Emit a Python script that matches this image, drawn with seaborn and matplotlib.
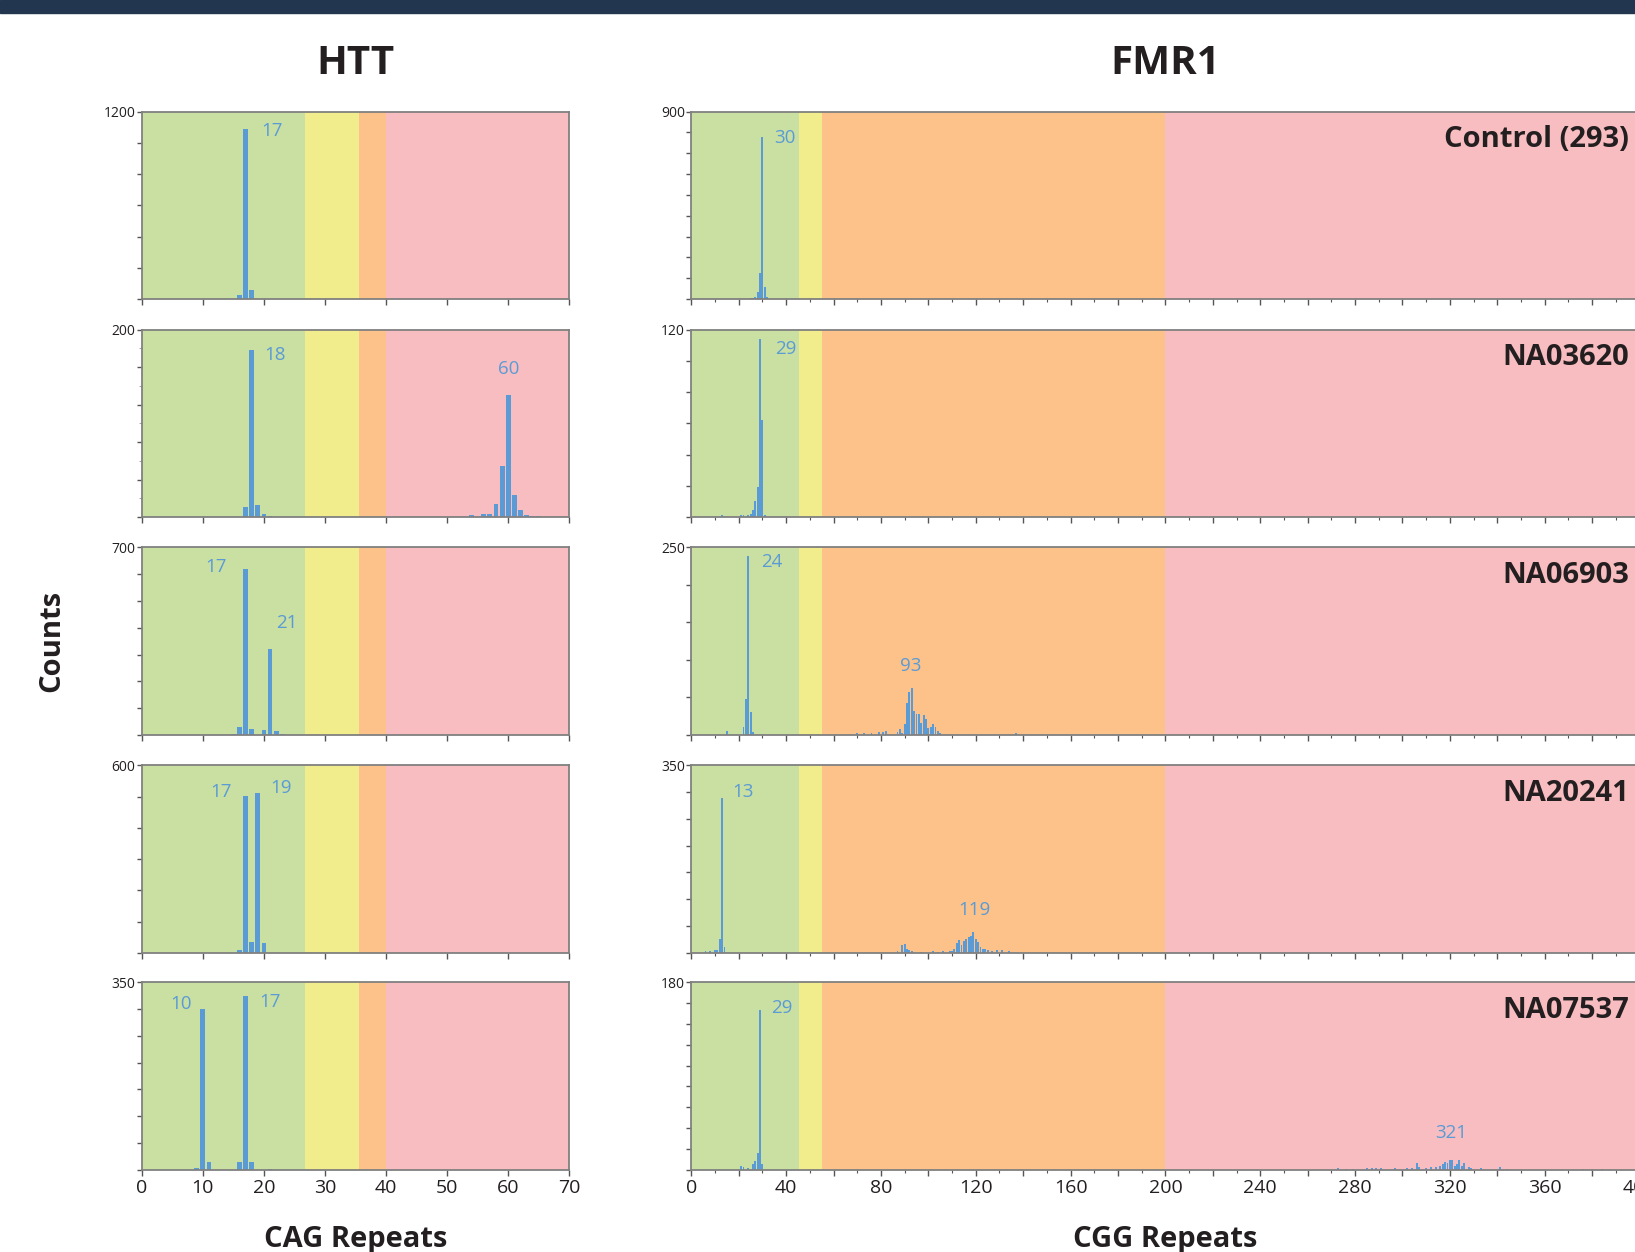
import matplotlib
matplotlib.use("Agg")
import matplotlib.pyplot as plt
from matplotlib.patches import Rectangle
from matplotlib.ticker import MultipleLocator
import seaborn as sns

# ---------------- data ----------------
samples = ["Control (293)", "NA03620", "NA06903", "NA20241", "NA07537"]

# HTT (CAG repeats)
htt_control_x = [16, 17, 18, 19]
htt_control_y = [26, 1088, 58, 3]
htt_na03620_x = [17, 18, 19, 20, 21, 54, 56, 57, 58, 59, 60, 61, 62, 63, 64, 65]
htt_na03620_y = [11, 178, 13, 3, 1, 2, 3, 3, 14, 54, 130, 23, 8, 2, 1, 1]
htt_na06903_x = [15, 16, 17, 18, 19, 20, 21, 22, 23]
htt_na06903_y = [2, 28, 621, 21, 1, 18, 322, 16, 4]
htt_na20241_x = [16, 17, 18, 19, 20]
htt_na20241_y = [10, 501, 33, 512, 30]
htt_na07537_x = [9, 10, 11, 16, 17, 18, 21]
htt_na07537_y = [3, 300, 15, 15, 324, 15, 1]

# FMR1 (CGG repeats)
fmr_control_x = [21, 23, 25, 26, 27, 28, 29, 30, 31, 32]
fmr_control_y = [1, 2, 3, 5, 11, 32, 124, 776, 60, 8]
fmr_na03620_x = [13, 21, 22, 24, 25, 26, 27, 28, 29, 30, 31]
fmr_na03620_y = [1, 1, 1, 1, 2, 4.5, 10, 19, 114, 62, 1]
fmr_na06903_x = [15, 22, 23, 24, 25, 26, 70, 73, 76, 79, 81, 82, 87, 88, 89, 90, 91, 92,
                 93, 94, 95, 96, 97, 98, 99, 100, 101, 102, 103, 104, 105, 137]
fmr_na06903_y = [5, 11, 48, 238, 30, 4, 2, 3, 3, 4, 4, 5, 4, 8, 3, 15, 43, 57,
                 62, 32, 28, 28, 16, 27, 21, 9, 10, 14, 10, 5, 2, 2]
fmr_na20241_x = [6, 8, 10, 11, 12, 13, 14, 87, 89, 90, 91, 92, 93, 97, 102, 104, 106,
                 109, 110, 111, 112, 113, 114, 115, 116, 117, 118, 119, 120, 121, 122,
                 123, 124, 125, 127, 129, 131, 134]
fmr_na20241_y = [3, 4, 5, 5, 25, 289, 11, 3, 14, 17, 8, 5, 3, 2, 3, 2, 3,
                 4, 3, 8, 19, 23, 14, 22, 26, 30, 31, 38, 25, 21, 11,
                 8, 7, 5, 4, 5, 5, 4]
fmr_na07537_x = [21, 22, 24, 26, 27, 28, 29, 30, 273, 276, 279, 285, 287, 289, 291, 297,
                 302, 304, 306, 307, 310, 312, 314, 316, 317, 318, 319, 320, 321, 322,
                 323, 324, 325, 326, 328, 329, 333, 341, 344, 376, 380, 384]
fmr_na07537_y = [4, 3, 2, 5.5, 8.7, 15.7, 153, 5.5, 2, 1, 1, 1.5, 1.5, 2, 1.5, 1.5,
                 2, 2, 6, 3, 2, 3, 2.5, 4, 5, 7, 6, 9, 9, 4,
                 5, 9, 4, 6, 3, 2, 2, 3, 1, 1, 1, 1]

htt_x = [htt_control_x, htt_na03620_x, htt_na06903_x, htt_na20241_x, htt_na07537_x]
htt_y = [htt_control_y, htt_na03620_y, htt_na06903_y, htt_na20241_y, htt_na07537_y]
fmr_x = [fmr_control_x, fmr_na03620_x, fmr_na06903_x, fmr_na20241_x, fmr_na07537_x]
fmr_y = [fmr_control_y, fmr_na03620_y, fmr_na06903_y, fmr_na20241_y, fmr_na07537_y]

htt_ymax = [1200, 200, 700, 600, 350]
htt_ystep = [200, 40, 100, 100, 50]
fmr_ymax = [900, 120, 250, 350, 180]
fmr_ystep = [100, 20, 50, 50, 20]

# peak labels: (text, x, y)
htt_peaks = [[("17", 21.3, 1073)],
             [("18", 21.9, 173), ("60", 60.1, 158)],
             [("17", 12.2, 627), ("21", 23.7, 416)],
             [("17", 13.0, 514), ("19", 22.8, 528)],
             [("10", 6.5, 309), ("17", 21.0, 313)]]
fmr_peaks = [[("30", 39.5, 774)],
             [("29", 40.0, 107.5)],
             [("24", 34.0, 231), ("93", 92.5, 92)],
             [("13", 22.0, 300), ("119", 119.4, 80.6)],
             [("29", 38.0, 155.6), ("321", 320.6, 35.7)]]

# zones: boundaries
htt_zones = [0, 26.7, 35.5, 40, 70]
fmr_zones = [0, 45.5, 55, 200, 400]
zone_colors = ["#C9E0A2", "#F2ED8C", "#FDC289", "#F8BDC0"]

BLUE = "#5B9BD5"
TXT = "#231F20"
SPINE = "#808080"

# ---------------- plotting ----------------
sns.set_style("ticks")
plt.rcParams['font.family'] = ['Open Sans', 'DejaVu Sans']

W, H = 1635, 1252
fig = plt.figure(figsize=(W / 100, H / 100), dpi=100)

# top navy band
fig.patches.append(Rectangle((0, 1 - 13 / H), 1, 13 / H, transform=fig.transFigure,
                             color="#22364F", zorder=0))

row_tops = [111.6, 329.5, 547.4, 765.3, 982.2]
row_h = 187.5
htt_left, htt_right = 141.8, 569.3
fmr_left, fmr_right = 691.3, 1639.5


def style_axis(ax, ymax, ystep, bottom_row, xmax, xstep, xlab_step, xminor=None):
    for s in ax.spines.values():
        s.set_visible(True)
        s.set_color(SPINE)
        s.set_linewidth(1.3)
        s.set_zorder(5)
    ax.set_ylim(0, ymax)
    ax.set_xlim(0, xmax)
    yt = list(range(0, ymax + 1, ystep))
    ax.set_yticks(yt)
    ax.set_yticklabels([""] * (len(yt) - 1) + [str(ymax)])
    xt = list(range(0, xmax + 1, xstep))
    ax.set_xticks(xt)
    if bottom_row:
        ax.set_xticklabels([str(v) if v % xlab_step == 0 else "" for v in xt])
    else:
        ax.set_xticklabels([""] * len(xt))
    if xminor:
        ax.xaxis.set_minor_locator(MultipleLocator(xminor))
        ax.tick_params(axis="x", which="minor", length=2.5, width=0.8, color="#555555")
    ax.tick_params(axis="x", which="major", direction="out", length=4, width=1,
                   color="#555555", labelsize=14, labelcolor=TXT, pad=3)
    ax.tick_params(axis="y", which="major", direction="out", length=3.5, width=1,
                   color="#555555", labelsize=10, labelcolor=TXT, pad=1)
    ax.set_xlabel("")
    ax.set_ylabel("")


for i in range(5):
    bottom = 1 - (row_tops[i] + row_h) / H
    height = row_h / H
    bottom_row = (i == 4)

    # HTT panel
    ax = fig.add_axes([htt_left / W, bottom, (htt_right - htt_left) / W, height])
    for z in range(4):
        ax.axvspan(htt_zones[z], htt_zones[z + 1], color=zone_colors[z], lw=0, zorder=0)
    sns.barplot(x=htt_x[i], y=htt_y[i], native_scale=True, color=BLUE, width=0.8,
                linewidth=0, errorbar=None, saturation=1, ax=ax, zorder=3)
    style_axis(ax, htt_ymax[i], htt_ystep[i], bottom_row, 70, 10, 10)
    if i == 1:
        ax.yaxis.set_minor_locator(MultipleLocator(20))
        ax.tick_params(axis="y", which="minor", length=2, width=0.6, color="#999999")
    for t, px, py in htt_peaks[i]:
        ax.text(px, py, t, color=BLUE, fontsize=13.5, ha="center", va="center", zorder=6)

    # FMR1 panel
    ax = fig.add_axes([fmr_left / W, bottom, (fmr_right - fmr_left) / W, height])
    for z in range(4):
        ax.axvspan(fmr_zones[z], fmr_zones[z + 1], color=zone_colors[z], lw=0, zorder=0)
    sns.barplot(x=fmr_x[i], y=fmr_y[i], native_scale=True, color=BLUE, width=0.8,
                linewidth=0, errorbar=None, saturation=1, ax=ax, zorder=3)
    style_axis(ax, fmr_ymax[i], fmr_ystep[i], bottom_row, 400, 20, 40, xminor=10)
    for t, px, py in fmr_peaks[i]:
        ax.text(px, py, t, color=BLUE, fontsize=13.5, ha="center", va="center", zorder=6)
    ax.text((1629 - fmr_left) / (fmr_right - fmr_left), 1 - 28 / row_h, samples[i],
            transform=ax.transAxes, ha="right", va="center", fontsize=21,
            fontweight="bold", color=TXT, zorder=6)

# titles and axis labels
fig.text((htt_left + htt_right) / 2 / W, 1 - 63 / H, "HTT", ha="center", va="center",
         fontsize=29, fontweight="bold", color=TXT)
fig.text((fmr_left + fmr_right) / 2 / W, 1 - 63 / H, "FMR1", ha="center", va="center",
         fontsize=29, fontweight="bold", color=TXT)
fig.text(52 / W, 1 - 641 / H, "Counts", rotation=90, ha="center", va="center",
         fontsize=21, fontweight="bold", color=TXT)
fig.text((htt_left + htt_right) / 2 / W, 1 - 1239 / H, "CAG Repeats", ha="center",
         va="center", fontsize=21, fontweight="bold", color=TXT)
fig.text((fmr_left + fmr_right) / 2 / W, 1 - 1239 / H, "CGG Repeats", ha="center",
         va="center", fontsize=21, fontweight="bold", color=TXT)

fig.savefig("out.png", dpi=100)
